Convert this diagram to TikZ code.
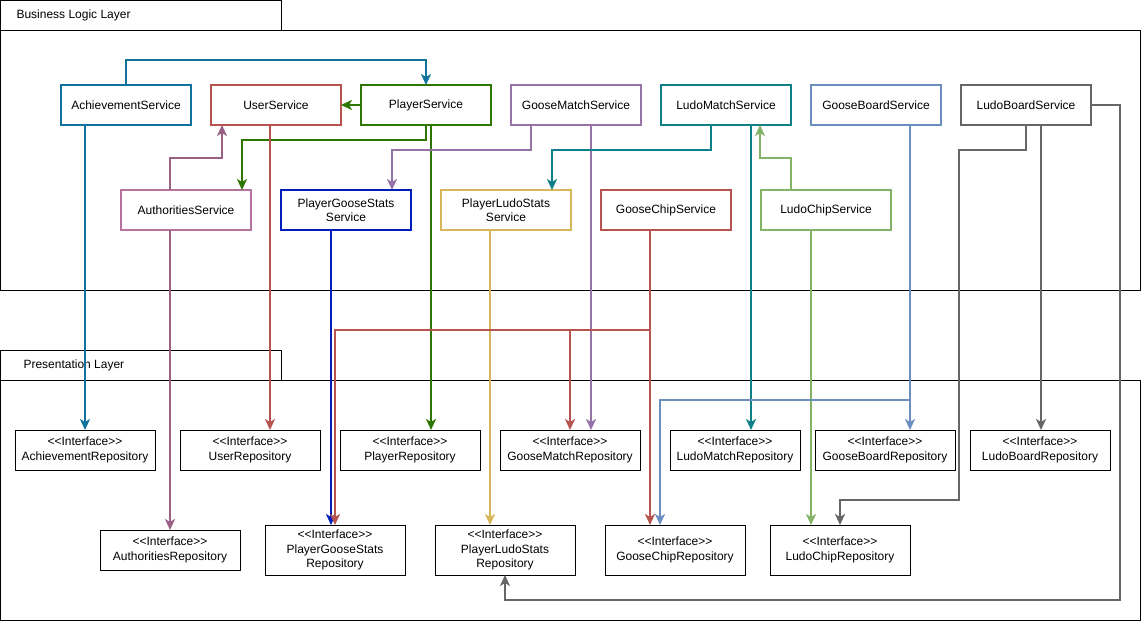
\documentclass[tikz,border=0pt]{standalone}
\usepackage{fontspec}
\setmainfont{Liberation Sans}
\usetikzlibrary{positioning,arrows.meta}

\definecolor{achC}{HTML}{10739E}
\definecolor{usrC}{HTML}{B85450}
\definecolor{plyC}{HTML}{2D7600}
\definecolor{gmC}{HTML}{9673A6}
\definecolor{lmC}{HTML}{0E8088}
\definecolor{gbC}{HTML}{6C8EBF}
\definecolor{lbC}{HTML}{666666}
\definecolor{authC}{HTML}{996185}
\definecolor{authB}{HTML}{B5739D}
\definecolor{pgsC}{HTML}{001DBC}
\definecolor{plsC}{HTML}{D6B656}
\definecolor{lcC}{HTML}{82B366}

\newcommand{\iface}{\textless\kern0pt\textless\kern0pt Interface\kern0pt\textgreater\kern0pt\textgreater}

\begin{document}
\begin{tikzpicture}[x=1pt,y=-1pt,node distance=20pt,
						every node/.style={font=\fontsize{12}{14.5}\selectfont},
						service/.style={draw,line width=2pt,fill=white,minimum width=130pt,minimum height=40pt,inner sep=0pt,outer sep=0pt,align=center},
						repo/.style={draw,line width=1pt,fill=white,minimum width=140pt,minimum height=40pt,inner sep=0pt,outer sep=0pt,align=center},
						link/.style={line width=2pt,-{Stealth[length=11pt,width=10pt,inset=3pt]}}]
		\useasboundingbox (0,0) rectangle (1141,621);

		\draw[line width=1pt] (0.5,0.5) rectangle (281,30);
		\draw[line width=1pt] (0.5,30) rectangle (1140.5,290);
		\node[anchor=west]	(blTxt)	at (13,15)	{Business Logic Layer};
		\draw[line width=1pt] (0.5,350) rectangle (281,380);
		\draw[line width=1pt] (0.5,380) rectangle (1140.5,620);
		\node[anchor=west]	(plTxt)	at (20,365)	{Presentation Layer};

		\node[service,draw=achC]					(ach)	at (126,105)	{AchievementService};
		\node[service,draw=usrC,right=of ach]		(usr)	{UserService};
		\node[service,draw=plyC,right=of usr]		(ply)	{PlayerService};
		\node[service,draw=gmC,right=of ply]		(gm)	{GooseMatchService};
		\node[service,draw=lmC,right=of gm]			(lm)	{LudoMatchService};
		\node[service,draw=gbC,right=of lm]			(gb)	{GooseBoardService};
		\node[service,draw=lbC,right=of gb]			(lb)	{LudoBoardService};

		\node[service,draw=authB]									(auth)	at (186,210)	{AuthoritiesService};
		\node[service,draw=pgsC,node distance=30pt,right=of auth]	(pgs)	{PlayerGooseStats\\Service};
		\node[service,draw=plsC,node distance=30pt,right=of pgs]	(pls)	{PlayerLudoStats\\Service};
		\node[service,draw=usrC,node distance=30pt,right=of pls]	(gc)	{GooseChipService};
		\node[service,draw=lcC,node distance=30pt,right=of gc]		(lc)	{LudoChipService};

		\node[repo]							(achR)	at (85,450)		{\iface\\AchievementRepository};
		\node[repo]							(usrR)	at (250,450)	{\iface\\UserRepository};
		\node[repo]							(plyR)	at (410,450)	{\iface\\PlayerRepository};
		\node[repo]							(gmR)	at (570,450)	{\iface\\GooseMatchRepository};
		\node[repo,minimum width=130pt]		(lmR)	at (735,450)	{\iface\\LudoMatchRepository};
		\node[repo]							(gbR)	at (885,450)	{\iface\\GooseBoardRepository};
		\node[repo]							(lbR)	at (1040,450)	{\iface\\LudoBoardRepository};
		\node[repo]							(authR)	at (170,550)	{\iface\\AuthoritiesRepository};
		\node[repo,minimum height=50pt]		(pgsR)	at (335,550)	{\iface\\PlayerGooseStats\\Repository};
		\node[repo,minimum height=50pt]		(plsR)	at (505,550)	{\iface\\PlayerLudoStats\\Repository};
		\node[repo,minimum height=50pt]		(gcR)	at (675,550)	{\iface\\GooseChipRepository};
		\node[repo,minimum height=50pt]		(lcR)	at (840,550)	{\iface\\LudoChipRepository};

		\coordinate (usrB)	at ([xshift=-6pt]usr.south);
		\coordinate (plyB)	at ([xshift=5pt]ply.south);
		\coordinate (gmB)	at ([xshift=15pt]gm.south);
		\coordinate (lmB)	at ([xshift=25pt]lm.south);
		\coordinate (gbB)	at ([xshift=34pt]gb.south);
		\coordinate (lbB)	at ([xshift=15pt]lb.south);
		\coordinate (pgsB)	at ([xshift=-15pt]pgs.south);
		\coordinate (plsB)	at ([xshift=-16pt]pls.south);
		\coordinate (gcB)	at ([xshift=-16pt]gc.south);
		\coordinate (lcB)	at ([xshift=-15pt]lc.south);

		\draw[link,achC] (ach.north) -- ++(0,-25) -| (ply.north);
		\draw[link,achC] (achR.north |- ach.south) -- (achR.north);
		\draw[link,plyC] (ply.west) -- (usr.east);
		\draw[link,plyC] (ply.south) -- ++(0,15) -| ([xshift=56pt]auth.north);
		\draw[link,plyC] (plyB) -- (plyB |- plyR.north);
		\draw[link,usrC] (usrB) -- (usrB |- usrR.north);
		\draw[link,authC] (authR.north |- auth.north) -- ++(0,-32) -| ([xshift=-54pt]usr.south);
		\draw[link,authC] (authR.north |- auth.south) -- (authR.north);
		\draw[link,gmC] ([xshift=-45pt]gm.south) -- ++(0,25) -| ([xshift=46pt]pgs.north);
		\draw[link,gmC] (gmB) -- (gmB |- gmR.north);
		\draw[link,lmC] ([xshift=-15pt]lm.south) -- ++(0,25) -| ([xshift=46pt]pls.north);
		\draw[link,lmC] (lmB) -- (lmB |- lmR.north);
		\draw[link,lcC] ([xshift=-35pt]lc.north) -- ++(0,-32) -| ([xshift=34pt]lm.south);
		\draw[link,lcC] (lcB) -- (lcB |- lcR.north);
		\draw[link,gbC] (gbB) -- (gbB |- gbR.north);
		\draw[link,gbC] (gbB) -- ++(0,275) -| ([xshift=-15pt]gcR.north);
		\draw[link,lbC] (lb.south) -- ++(0,25) -| ++(-67,350) -| (lcR.north);
		\draw[link,lbC] (lbB) -- (lbB |- lbR.north);
		\draw[link,lbC] (lb.east) -- ++(29,0) -- ++(0,495) -| (plsR.south);
		\draw[link,pgsC] (pgsB) -- (pgsB |- pgsR.north);
		\draw[link,plsC] (plsB) -- (plsB |- plsR.north);
		\draw[link,usrC] (gcB) -- ++(0,100) -| (pgsR.north);
		\draw[link,usrC] (gcB) -- ++(0,100) -| (gmR.north);
		\draw[link,usrC] (gcB) -- (gcB |- gcR.north);
	\end{tikzpicture}
\end{document}
